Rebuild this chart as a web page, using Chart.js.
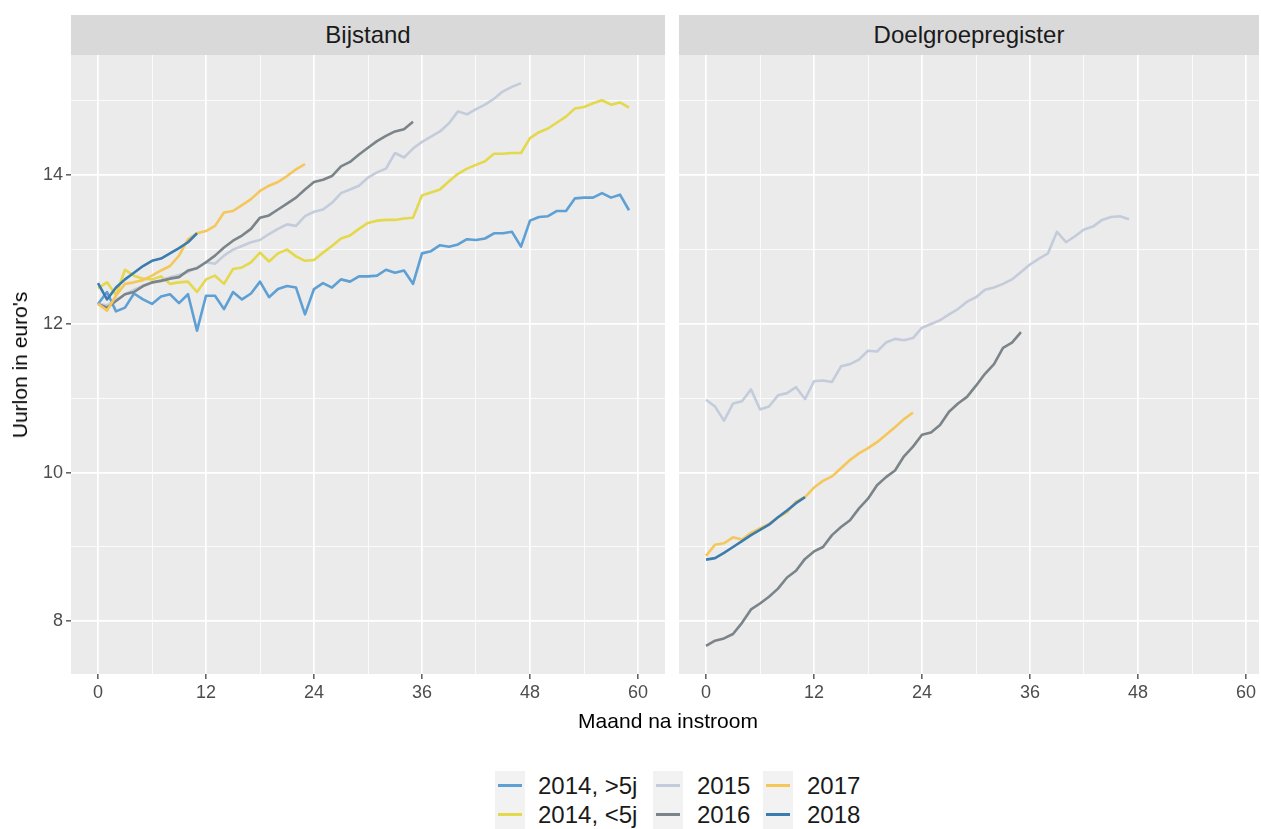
<!DOCTYPE html>
<html><head><meta charset="utf-8">
<script src="https://cdn.jsdelivr.net/npm/chart.js@4"></script>
<style>
body{margin:0;width:1261px;height:829px;overflow:hidden;background:#fff;font-family:"Liberation Sans",Arial,sans-serif;position:relative}
.strip{position:absolute;top:15px;height:40px;background:#D9D9D9;color:#1A1A1A;font-size:24px;line-height:40px;text-align:center}
.wrap{position:absolute;top:55px;height:655px;overflow:hidden}
.ytitle{position:absolute;left:20px;top:365px;transform:translate(-50%,-50%) rotate(-90deg);font-size:21px;color:#000;white-space:nowrap}
.xtitle{position:absolute;left:668px;top:721px;transform:translate(-50%,-50%);font-size:21px;color:#000;white-space:nowrap}
.key{position:absolute;width:30px;height:29px;background:#F2F2F2}
.key span{position:absolute;left:3px;right:3px;top:13px;height:3px}
.lab{position:absolute;font-size:24px;color:#1A1A1A;line-height:29px;white-space:nowrap}
</style></head><body>
<div class="strip" style="left:71px;width:594px">Bijstand</div>
<div class="strip" style="left:679px;width:580px">Doelgroepregister</div>
<div class="wrap" style="left:0;width:665px"><canvas id="c1" width="665" height="655"></canvas></div>
<div class="wrap" style="left:679px;width:580px"><canvas id="c2" width="594" height="655"></canvas></div>
<div class="ytitle">Uurlon in euro's</div>
<div class="xtitle">Maand na instroom</div>
<div id="legend"></div>
<script>
// ---- data ----
const seriesNames = ["2014, >5j", "2014, <5j", "2015", "2016", "2017", "2018"];
const seriesColors = ["#5E9FD4", "#E4D84C", "#C4CCDC", "#7B8488", "#F5C75B", "#3A7CAE"];
const panelTitles = ["Bijstand", "Doelgroepregister"];

const bij_2014_gt5 = [12.27,12.43,12.17,12.22,12.41,12.33,12.27,12.37,12.40,12.28,12.40,11.91,12.38,12.38,12.20,12.43,12.33,12.41,12.57,12.36,12.47,12.51,12.49,12.13,12.47,12.55,12.49,12.60,12.57,12.64,12.64,12.65,12.73,12.69,12.72,12.54,12.95,12.98,13.06,13.04,13.07,13.14,13.13,13.15,13.22,13.22,13.24,13.04,13.39,13.44,13.45,13.52,13.52,13.69,13.70,13.70,13.76,13.70,13.74,13.53];
const bij_2014_lt5 = [12.48,12.56,12.39,12.73,12.65,12.61,12.60,12.64,12.54,12.56,12.57,12.43,12.60,12.65,12.54,12.74,12.76,12.83,12.96,12.84,12.95,13.00,12.91,12.85,12.86,12.96,13.05,13.15,13.19,13.28,13.36,13.39,13.40,13.40,13.42,13.43,13.73,13.77,13.81,13.92,14.02,14.09,14.14,14.19,14.29,14.29,14.30,14.30,14.50,14.58,14.63,14.71,14.79,14.90,14.92,14.97,15.01,14.95,14.98,14.91];
const bij_2015 = [12.27,12.25,12.32,12.40,12.46,12.51,12.55,12.59,12.63,12.66,12.70,12.76,12.83,12.81,12.92,13.00,13.05,13.10,13.13,13.21,13.28,13.34,13.32,13.45,13.51,13.54,13.63,13.76,13.81,13.86,13.97,14.04,14.09,14.30,14.24,14.36,14.45,14.52,14.59,14.70,14.86,14.82,14.89,14.95,15.03,15.13,15.19,15.24];
const bij_2016 = [12.27,12.22,12.31,12.40,12.43,12.51,12.56,12.58,12.61,12.63,12.72,12.75,12.83,12.92,13.03,13.12,13.19,13.28,13.43,13.46,13.54,13.62,13.70,13.81,13.91,13.94,13.99,14.12,14.18,14.28,14.37,14.46,14.53,14.59,14.62,14.72];
const bij_2017 = [12.27,12.18,12.38,12.54,12.56,12.59,12.65,12.72,12.78,12.92,13.14,13.22,13.25,13.32,13.50,13.52,13.60,13.68,13.79,13.86,13.91,13.99,14.08,14.15];
const bij_2018 = [12.55,12.33,12.49,12.60,12.69,12.78,12.85,12.88,12.95,13.02,13.10,13.22];

const dgr_2015 = [10.98,10.89,10.70,10.93,10.96,11.12,10.85,10.89,11.04,11.07,11.15,10.99,11.23,11.24,11.22,11.43,11.46,11.52,11.64,11.63,11.75,11.80,11.78,11.81,11.95,12.00,12.05,12.13,12.20,12.30,12.36,12.46,12.49,12.54,12.60,12.70,12.80,12.88,12.95,13.24,13.10,13.18,13.27,13.31,13.40,13.44,13.45,13.41];
const dgr_2016 = [7.67,7.74,7.77,7.83,7.98,8.16,8.24,8.33,8.44,8.59,8.68,8.84,8.94,9.00,9.16,9.27,9.36,9.52,9.65,9.83,9.94,10.03,10.22,10.35,10.51,10.54,10.64,10.82,10.93,11.02,11.17,11.33,11.46,11.68,11.75,11.89];
const dgr_2017 = [8.88,9.03,9.05,9.13,9.10,9.19,9.25,9.31,9.40,9.47,9.61,9.67,9.80,9.89,9.95,10.06,10.17,10.26,10.33,10.41,10.51,10.61,10.72,10.81];
const dgr_2018 = [8.83,8.85,8.92,9.00,9.08,9.16,9.23,9.30,9.40,9.49,9.59,9.67];

const xMajorTicks = [0, 12, 24, 36, 48, 60];
const xMinorTicks = [6, 18, 30, 42, 54];
const yMajorTicks = [8, 10, 12, 14];
const yMinorTicks = [9, 11, 13, 15];

// ---- build ----
const leftSeries = [bij_2014_gt5, bij_2014_lt5, bij_2015, bij_2016, bij_2017, bij_2018];
const rightSeries = [null, null, dgr_2015, dgr_2016, dgr_2017, dgr_2018];

const allVals = leftSeries.concat(rightSeries).filter(Boolean).flat();
const yLo = Math.min(...allVals), yHi = Math.max(...allVals);
const yPad = (yHi - yLo) * 0.05;
const xLo = Math.min(...xMajorTicks), xHi = Math.max(...xMajorTicks);
const xPad = (xHi - xLo) * 0.05;

const bgPlugin = {
  id: 'panelBg',
  beforeDraw(chart) {
    const a = chart.chartArea, c = chart.ctx;
    c.save(); c.fillStyle = '#EBEBEB';
    c.fillRect(a.left, a.top, a.right - a.left, a.bottom - a.top);
    c.restore();
  }
};

function makeDatasets(list) {
  const ds = [];
  list.forEach((arr, i) => {
    if (!arr) return;
    ds.push({
      label: seriesNames[i],
      data: arr.map((v, m) => ({ x: m, y: v })),
      borderColor: seriesColors[i],
      borderWidth: 2.6,
      pointRadius: 0,
      tension: 0,
      borderJoinStyle: 'round',
      fill: false,
      order: 10 - i
    });
  });
  return ds;
}

const isMajX = v => xMajorTicks.includes(v);
const isMajY = v => yMajorTicks.includes(v);

function makeChart(id, list, showY) {
  return new Chart(document.getElementById(id), {
    type: 'line',
    data: { datasets: makeDatasets(list) },
    plugins: [bgPlugin],
    options: {
      responsive: false, animation: false, devicePixelRatio: 1,
      layout: { padding: 0 },
      plugins: { legend: { display: false }, tooltip: { enabled: false } },
      scales: {
        x: {
          type: 'linear', min: xLo - xPad, max: xHi + xPad,
          afterBuildTicks: s => { s.ticks = xMajorTicks.concat(xMinorTicks).sort((a,b)=>a-b).map(v => ({ value: v })); },
          afterFit: s => { s.height = 36; s.paddingLeft = 0; s.paddingRight = 0; },
          border: { display: false },
          grid: {
            color: '#FFFFFF',
            lineWidth: c => isMajX(c.tick.value) ? 1.7 : 0.8,
            tickColor: c => isMajX(c.tick.value) ? '#333333' : 'rgba(0,0,0,0)',
            tickLength: 5, tickWidth: 1.2
          },
          ticks: {
            autoSkip: false, maxRotation: 0, padding: 3,
            color: '#4D4D4D', font: { size: 18, family: '"Liberation Sans", Arial' },
            callback: v => isMajX(v) ? String(v) : ''
          }
        },
        y: {
          type: 'linear', min: yLo - yPad, max: yHi + yPad,
          afterBuildTicks: s => { s.ticks = yMajorTicks.concat(yMinorTicks).sort((a,b)=>a-b).map(v => ({ value: v })); },
          afterFit: s => { s.width = showY ? 71 : 0; s.paddingTop = 0; s.paddingBottom = 0; },
          border: { display: false },
          grid: {
            color: '#FFFFFF',
            lineWidth: c => isMajY(c.tick.value) ? 1.7 : 0.8,
            tickColor: c => (showY && isMajY(c.tick.value)) ? '#333333' : 'rgba(0,0,0,0)',
            drawTicks: showY,
            tickLength: 5, tickWidth: 1.2
          },
          ticks: {
            display: showY, autoSkip: false, padding: 3,
            color: '#4D4D4D', font: { size: 18, family: '"Liberation Sans", Arial' },
            callback: v => isMajY(v) ? String(v) : ''
          }
        }
      }
    }
  });
}

makeChart('c1', leftSeries, true);
makeChart('c2', rightSeries, false);

// ---- legend (3 columns, 2 rows, column-major) ----
const legendCols = [{ key: 495, text: 538 }, { key: 653, text: 697 }, { key: 763, text: 807 }];
const legendRowTops = [771, 800];
const lg = document.getElementById('legend');
seriesNames.forEach((name, i) => {
  const col = legendCols[Math.floor(i / 2)], top = legendRowTops[i % 2];
  const k = document.createElement('div');
  k.className = 'key'; k.style.left = col.key + 'px'; k.style.top = top + 'px';
  const s = document.createElement('span'); s.style.background = seriesColors[i]; k.appendChild(s);
  lg.appendChild(k);
  const t = document.createElement('div');
  t.className = 'lab'; t.style.left = col.text + 'px'; t.style.top = top + 'px';
  t.textContent = name; lg.appendChild(t);
});
</script>
</body></html>
